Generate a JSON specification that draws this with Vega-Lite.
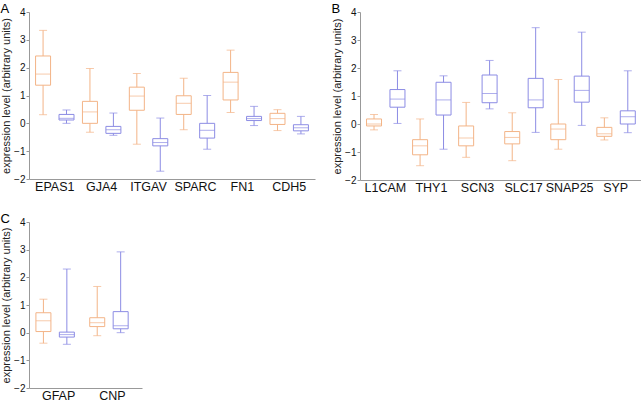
{
  "$schema": "https://vega.github.io/schema/vega-lite/v6.json",
  "padding": {"left": 0, "top": 3, "right": 0, "bottom": 0},
  "background": "white",
  "config": {
    "font": "Liberation Sans",
    "view": {"stroke": null},
    "title": {"fontSize": 13, "fontWeight": "normal", "anchor": "start", "frame": "bounds", "offset": -9, "color": "#000"},
    "axis": {"grid": false, "domainColor": "#999", "tickColor": "#999", "labelColor": "#111", "titleColor": "#222", "labelFont": "Liberation Sans", "titleFont": "Liberation Sans", "labelOverlap": false},
    "axisY": {"values": [-2, -1, 0, 1, 2, 3, 4], "tickSize": 3, "labelPadding": 1, "labelFontSize": 10, "titleFontSize": 11, "titleFontWeight": "normal", "titlePadding": 2},
    "axisX": {"labelAngle": 0, "ticks": false, "labelPadding": 1, "labelFontSize": 12.5},
    "concat": {"spacing": 19}
  },
  "datasets": {
    "A": [
      {"gene": "EPAS1", "group": "a", "lower": 0.31, "q1": 1.37, "median": 1.77, "q3": 2.42, "upper": 3.34},
      {"gene": "EPAS1", "group": "b", "lower": 0.0, "q1": 0.12, "median": 0.18, "q3": 0.32, "upper": 0.48},
      {"gene": "GJA4", "group": "a", "lower": -0.32, "q1": 0.0, "median": 0.41, "q3": 0.79, "upper": 1.97},
      {"gene": "GJA4", "group": "b", "lower": -0.43, "q1": -0.36, "median": -0.23, "q3": -0.11, "upper": 0.37},
      {"gene": "ITGAV", "group": "a", "lower": -0.75, "q1": 0.47, "median": 0.98, "q3": 1.3, "upper": 1.79},
      {"gene": "ITGAV", "group": "b", "lower": -1.72, "q1": -0.81, "median": -0.69, "q3": -0.55, "upper": 0.19},
      {"gene": "SPARC", "group": "a", "lower": -0.23, "q1": 0.32, "median": 0.72, "q3": 0.99, "upper": 1.62},
      {"gene": "SPARC", "group": "b", "lower": -0.93, "q1": -0.53, "median": -0.25, "q3": 0.0, "upper": 1.0},
      {"gene": "FN1", "group": "a", "lower": 0.39, "q1": 0.84, "median": 1.48, "q3": 1.83, "upper": 2.63},
      {"gene": "FN1", "group": "b", "lower": -0.08, "q1": 0.1, "median": 0.17, "q3": 0.25, "upper": 0.61},
      {"gene": "CDH5", "group": "a", "lower": -0.26, "q1": -0.04, "median": 0.17, "q3": 0.36, "upper": 0.49},
      {"gene": "CDH5", "group": "b", "lower": -0.38, "q1": -0.27, "median": -0.16, "q3": -0.05, "upper": 0.25}
    ],
    "B": [
      {"gene": "L1CAM", "group": "a", "lower": -0.21, "q1": -0.07, "median": 0.0, "q3": 0.18, "upper": 0.34},
      {"gene": "L1CAM", "group": "b", "lower": 0.02, "q1": 0.6, "median": 0.89, "q3": 1.23, "upper": 1.9},
      {"gene": "THY1", "group": "a", "lower": -1.49, "q1": -1.1, "median": -0.78, "q3": -0.56, "upper": 0.18},
      {"gene": "THY1", "group": "b", "lower": -0.9, "q1": 0.32, "median": 0.86, "q3": 1.49, "upper": 1.72},
      {"gene": "SCN3", "group": "a", "lower": -1.19, "q1": -0.78, "median": -0.5, "q3": -0.07, "upper": 0.77},
      {"gene": "SCN3", "group": "b", "lower": 0.54, "q1": 0.76, "median": 1.09, "q3": 1.75, "upper": 2.27},
      {"gene": "SLC17", "group": "a", "lower": -1.31, "q1": -0.71, "median": -0.48, "q3": -0.27, "upper": 0.4},
      {"gene": "SLC17", "group": "b", "lower": -0.3, "q1": 0.58, "median": 0.86, "q3": 1.63, "upper": 3.44},
      {"gene": "SNAP25", "group": "a", "lower": -0.9, "q1": -0.56, "median": -0.18, "q3": 0.0, "upper": 1.59},
      {"gene": "SNAP25", "group": "b", "lower": -0.05, "q1": 0.78, "median": 1.2, "q3": 1.71, "upper": 3.28},
      {"gene": "SYP", "group": "a", "lower": -0.57, "q1": -0.44, "median": -0.35, "q3": -0.12, "upper": 0.22},
      {"gene": "SYP", "group": "b", "lower": -0.31, "q1": 0.0, "median": 0.26, "q3": 0.47, "upper": 1.9}
    ],
    "C": [
      {"gene": "GFAP", "group": "a", "lower": -0.38, "q1": 0.04, "median": 0.43, "q3": 0.72, "upper": 1.21},
      {"gene": "GFAP", "group": "b", "lower": -0.42, "q1": -0.16, "median": -0.07, "q3": 0.02, "upper": 2.3},
      {"gene": "CNP", "group": "a", "lower": -0.11, "q1": 0.22, "median": 0.36, "q3": 0.54, "upper": 1.67},
      {"gene": "CNP", "group": "b", "lower": 0.0, "q1": 0.14, "median": 0.25, "q3": 0.76, "upper": 2.92}
    ]
  },
  "vconcat": [
    {
      "spacing": 16,
      "hconcat": [
        {
          "title": "A",
          "width": 286, "height": 167,
          "data": {"name": "A"},
          "encoding": {
            "x": {"field": "gene", "type": "nominal", "sort": null, "title": null, "scale": {"paddingInner": 0, "paddingOuter": 0.05}},
            "xOffset": {"field": "group", "type": "nominal"},
            "color": {"field": "group", "type": "nominal", "scale": {"domain": ["a", "b"], "range": ["#f3b487", "#8c8ce4"]}, "legend": null}
          },
          "layer": [
            {"mark": {"type": "rule", "strokeWidth": 1}, "encoding": {"y": {"field": "lower", "type": "quantitative", "scale": {"domain": [-2, 4]}, "title": "expression level (arbitrary units)"}, "y2": {"field": "upper"}}},
            {"mark": {"type": "bar", "size": 15, "fill": "white", "strokeWidth": 1}, "encoding": {"y": {"field": "q1", "type": "quantitative"}, "y2": {"field": "q3"}, "stroke": {"field": "group", "type": "nominal", "scale": {"domain": ["a", "b"], "range": ["#f3b487", "#8c8ce4"]}, "legend": null}, "color": {"value": "white"}}},
            {"mark": {"type": "tick", "size": 15, "thickness": 1}, "encoding": {"y": {"field": "median", "type": "quantitative"}}},
            {"mark": {"type": "tick", "size": 8, "thickness": 1}, "encoding": {"y": {"field": "lower", "type": "quantitative"}}},
            {"mark": {"type": "tick", "size": 8, "thickness": 1}, "encoding": {"y": {"field": "upper", "type": "quantitative"}}}
          ]
        },
        {
          "title": "B",
          "width": 281, "height": 168,
          "data": {"name": "B"},
          "encoding": {
            "x": {"field": "gene", "type": "nominal", "sort": null, "title": null, "scale": {"paddingInner": 0, "paddingOuter": 0.05}},
            "xOffset": {"field": "group", "type": "nominal"},
            "color": {"field": "group", "type": "nominal", "scale": {"domain": ["a", "b"], "range": ["#f3b487", "#8c8ce4"]}, "legend": null}
          },
          "layer": [
            {"mark": {"type": "rule", "strokeWidth": 1}, "encoding": {"y": {"field": "lower", "type": "quantitative", "scale": {"domain": [-2, 4]}, "title": "expression level (arbitrary units)"}, "y2": {"field": "upper"}}},
            {"mark": {"type": "bar", "size": 15, "fill": "white", "strokeWidth": 1}, "encoding": {"y": {"field": "q1", "type": "quantitative"}, "y2": {"field": "q3"}, "stroke": {"field": "group", "type": "nominal", "scale": {"domain": ["a", "b"], "range": ["#f3b487", "#8c8ce4"]}, "legend": null}, "color": {"value": "white"}}},
            {"mark": {"type": "tick", "size": 15, "thickness": 1}, "encoding": {"y": {"field": "median", "type": "quantitative"}}},
            {"mark": {"type": "tick", "size": 8, "thickness": 1}, "encoding": {"y": {"field": "lower", "type": "quantitative"}}},
            {"mark": {"type": "tick", "size": 8, "thickness": 1}, "encoding": {"y": {"field": "upper", "type": "quantitative"}}}
          ]
        }
      ]
    },
    {
      "title": "C",
      "width": 113, "height": 166,
      "data": {"name": "C"},
      "encoding": {
        "x": {"field": "gene", "type": "nominal", "sort": null, "title": null, "scale": {"paddingInner": 0, "paddingOuter": 0.05}},
        "xOffset": {"field": "group", "type": "nominal"},
        "color": {"field": "group", "type": "nominal", "scale": {"domain": ["a", "b"], "range": ["#f3b487", "#8c8ce4"]}, "legend": null}
      },
      "layer": [
        {"mark": {"type": "rule", "strokeWidth": 1}, "encoding": {"y": {"field": "lower", "type": "quantitative", "scale": {"domain": [-2, 4]}, "title": "expression level (arbitrary units)"}, "y2": {"field": "upper"}}},
        {"mark": {"type": "bar", "size": 15, "fill": "white", "strokeWidth": 1}, "encoding": {"y": {"field": "q1", "type": "quantitative"}, "y2": {"field": "q3"}, "stroke": {"field": "group", "type": "nominal", "scale": {"domain": ["a", "b"], "range": ["#f3b487", "#8c8ce4"]}, "legend": null}, "color": {"value": "white"}}},
        {"mark": {"type": "tick", "size": 15, "thickness": 1}, "encoding": {"y": {"field": "median", "type": "quantitative"}}},
        {"mark": {"type": "tick", "size": 8, "thickness": 1}, "encoding": {"y": {"field": "lower", "type": "quantitative"}}},
        {"mark": {"type": "tick", "size": 8, "thickness": 1}, "encoding": {"y": {"field": "upper", "type": "quantitative"}}}
      ]
    }
  ]
}
